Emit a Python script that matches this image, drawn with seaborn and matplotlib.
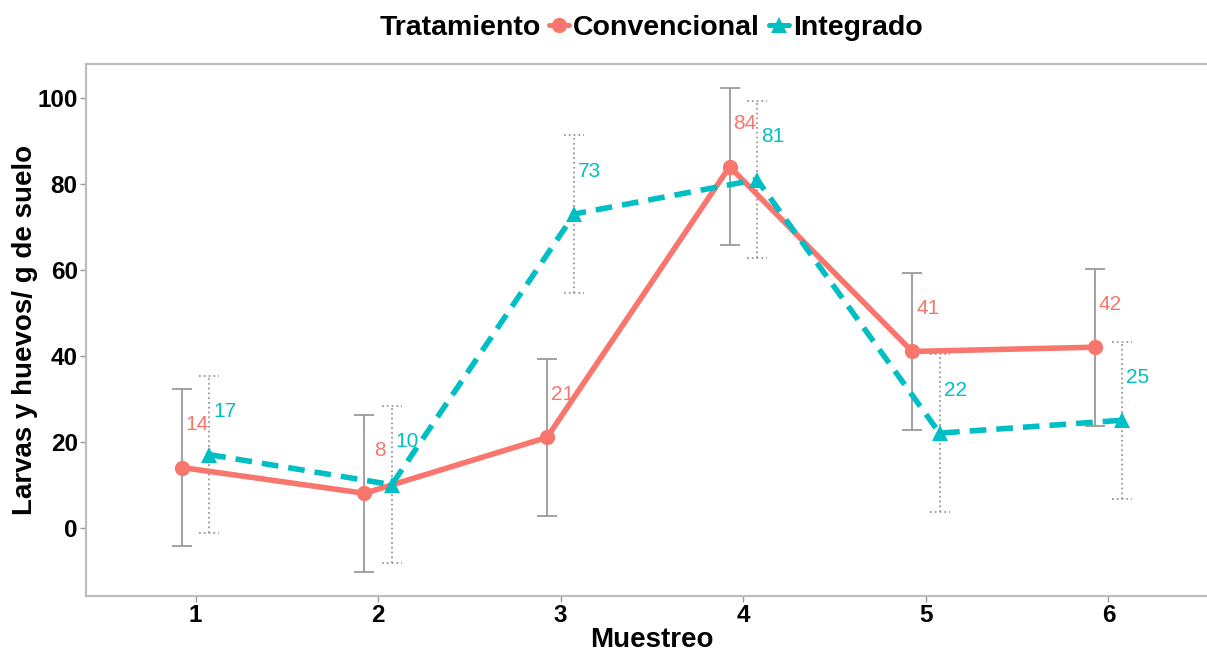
import numpy as np
import pandas as pd
import matplotlib
matplotlib.use("Agg")
import matplotlib.pyplot as plt
from matplotlib.lines import Line2D
import seaborn as sns

# Sampling rounds and mean counts per treatment
muestreo = [1, 2, 3, 4, 5, 6]
convencional = [14, 8, 21, 84, 41, 42]
integrado = [17, 10, 73, 81, 22, 25]
# Error bar half-widths
err_convencional = [18.3, 18.3, 18.3, 18.3, 18.3, 18.3]
err_integrado = [18.3, 18.3, 18.3, 18.3, 18.3, 18.3]
tratamientos = ["Convencional", "Integrado"]
yticks = [0, 20, 40, 60, 80, 100]

colors = {"Convencional": "#F8766D", "Integrado": "#00BFC4"}
dodge = {"Convencional": -0.075, "Integrado": 0.075}
bar_style = {"Convencional": "-", "Integrado": ":"}

df = pd.DataFrame({
    "Muestreo": muestreo * 2,
    "Valor": convencional + integrado,
    "Error": err_convencional + err_integrado,
    "Tratamiento": [tratamientos[0]] * len(muestreo) + [tratamientos[1]] * len(muestreo),
})
df["xpos"] = df["Muestreo"] + df["Tratamiento"].map(dodge)
df["lo"] = df["Valor"] - df["Error"]
df["hi"] = df["Valor"] + df["Error"]

sns.set_theme(style="white")
plt.rcParams["font.family"] = ["Liberation Sans", "DejaVu Sans"]
plt.rcParams["text.color"] = "black"

fig = plt.figure(figsize=(12.07, 6.52), dpi=100)
ax = fig.add_axes([86 / 1207, 1 - 596 / 652, (1218 - 86) / 1207, (596 - 64) / 652])

# Error bars (drawn beneath the lines)
cap = 0.055
for trat in tratamientos:
    sub = df[df["Tratamiento"] == trat]
    ls = bar_style[trat]
    ax.vlines(sub["xpos"], sub["lo"], sub["hi"], color="#9a9a9a", linewidth=1.3,
              linestyle=ls, zorder=2)
    for yv in ("lo", "hi"):
        ax.hlines(sub[yv], sub["xpos"] - cap, sub["xpos"] + cap, color="#9a9a9a",
                  linewidth=1.3, linestyle=ls, zorder=2)

sns.lineplot(data=df, x="xpos", y="Valor", hue="Tratamiento", style="Tratamiento",
             palette=colors, markers={"Convencional": "o", "Integrado": "^"},
             dashes={"Convencional": "", "Integrado": (3, 1.8)},
             linewidth=4.0, markersize=11, markeredgewidth=0,
             sort=False, legend=False, ax=ax, zorder=3)

# Value labels
for _, r in df.iterrows():
    ax.text(r["xpos"] + 0.085, r["Valor"] + 10, f"{r['Valor']:g}",
            color=colors[r["Tratamiento"]], fontsize=15, ha="center", va="center", zorder=4)

ax.set_xlim(0.4, 6.6)
ax.set_ylim(-15.9, 107.9)
ax.set_xticks(muestreo)
ax.set_xticklabels([str(m) for m in muestreo])
ax.set_yticks(yticks)
ax.tick_params(axis="both", which="both", length=4, width=1, color="#9a9a9a",
               labelsize=17.5, labelcolor="black", pad=2, direction="out",
               bottom=True, left=True)
for lab in ax.get_xticklabels() + ax.get_yticklabels():
    lab.set_fontweight("bold")
for sp in ax.spines.values():
    sp.set_color("#bdbdbd")
    sp.set_linewidth(1.6)
ax.grid(False)
ax.set_xlabel("Muestreo", fontsize=20, fontweight="bold", labelpad=0, color="black")
ax.set_ylabel("Larvas y huevos/ g de suelo", fontsize=20, fontweight="bold", color="black")
ax.yaxis.set_label_coords(-0.0424, 0.5)

# Legend across the top
fig.text(380 / 1207, 1 - 28 / 652, "Tratamiento", fontsize=20.5, fontweight="bold",
         ha="left", va="center", color="black")
handles = [
    Line2D([], [], color=colors["Convencional"], marker="o", markersize=11,
           linewidth=3.6, markeredgewidth=0),
    Line2D([], [], color=colors["Integrado"], marker="^", markersize=11,
           linewidth=3.6, markeredgewidth=0),
]
leg = fig.legend(handles, tratamientos, loc="center left",
                 bbox_to_anchor=(549 / 1207, 1 - 28 / 652), ncol=2, frameon=False,
                 handlelength=0.7, handletextpad=0.15, columnspacing=0.3,
                 borderpad=0, borderaxespad=0,
                 prop={"size": 20.5, "weight": "bold"})
for t in leg.get_texts():
    t.set_color("black")

fig.savefig("out.png", dpi=100)
